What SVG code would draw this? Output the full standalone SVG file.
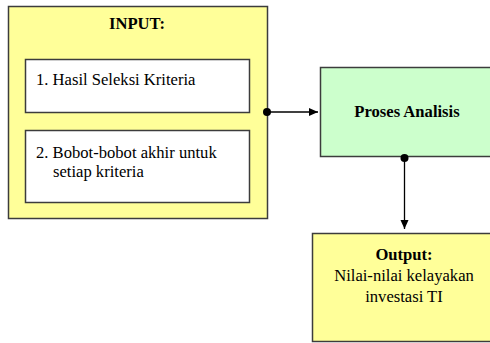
<svg xmlns="http://www.w3.org/2000/svg" width="490" height="343" viewBox="0 0 490 343">
  <style>
    .box { stroke: #3c3c3c; stroke-width: 1.5; }
    .yellow { fill: #ffff99; }
    .green { fill: #ccffcc; }
    .white { fill: #ffffff; }
    .t { font-family: "Times New Roman", "Liberation Serif", Times, serif; font-size: 16.6px; fill: #000; }
    .b { font-weight: bold; }
    .edge { stroke: #000; stroke-width: 1.3; fill: none; }
  </style>
  <defs>
    <marker id="arrow" markerWidth="10" markerHeight="10" refX="9" refY="5" orient="auto" markerUnits="userSpaceOnUse">
      <path d="M0,1 L9,5 L0,9 Z" fill="#000"/>
    </marker>
  </defs>

  <rect width="490" height="343" fill="#ffffff"/>

  <g id="input">
    <rect class="box yellow" x="8.5" y="6.5" width="259" height="212"/>
    <text class="t b" x="137" y="28.5" text-anchor="middle">INPUT:</text>
    <g id="input-item-1">
      <rect class="box white" x="25.5" y="59.5" width="224" height="53"/>
      <text class="t" x="36" y="85">1. Hasil Seleksi Kriteria</text>
    </g>
    <g id="input-item-2">
      <rect class="box white" x="25.5" y="130.5" width="224" height="72"/>
      <text class="t" x="36" y="158">2. Bobot-bobot akhir untuk</text>
      <text class="t" x="53" y="177">setiap kriteria</text>
    </g>
  </g>

  <g id="proses">
    <rect class="box green" x="320.5" y="67.5" width="175" height="89"/>
    <text class="t b" x="407" y="117" text-anchor="middle">Proses Analisis</text>
  </g>

  <g id="output">
    <rect class="box yellow" x="312.5" y="233.5" width="185" height="108"/>
    <text class="t b" x="404" y="260" text-anchor="middle">Output:</text>
    <text class="t" x="404" y="281" text-anchor="middle">Nilai-nilai kelayakan</text>
    <text class="t" x="404" y="302" text-anchor="middle">investasi TI</text>
  </g>

  <g id="connectors">
    <line class="edge" x1="267" y1="112" x2="318" y2="112" marker-end="url(#arrow)"/>
    <circle cx="267" cy="112" r="4" fill="#000"/>
    <line class="edge" x1="404.5" y1="158" x2="404.5" y2="229" marker-end="url(#arrow)"/>
    <circle cx="404.5" cy="158" r="4" fill="#000"/>
  </g>
</svg>
